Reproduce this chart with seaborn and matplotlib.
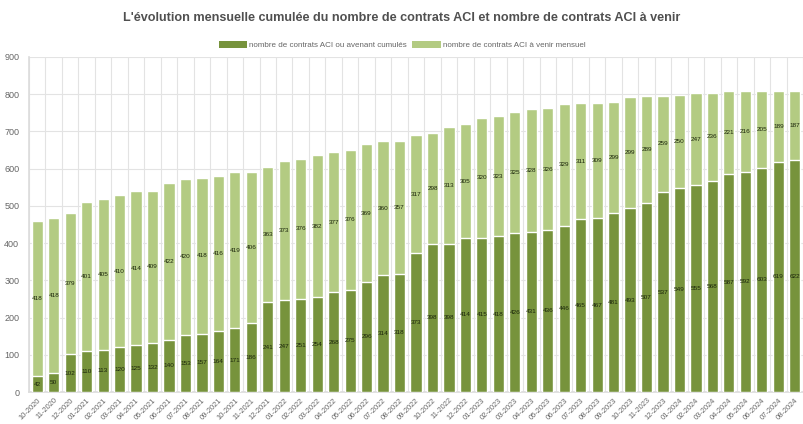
import matplotlib
matplotlib.use("Agg")
import matplotlib.pyplot as plt
import seaborn as sns
import pandas as pd
from matplotlib.patches import Patch

months = ["10-2020", "11-2020", "12-2020",
          "01-2021", "02-2021", "03-2021", "04-2021", "05-2021", "06-2021",
          "07-2021", "08-2021", "09-2021", "10-2021", "11-2021", "12-2021",
          "01-2022", "02-2022", "03-2022", "04-2022", "05-2022", "06-2022",
          "07-2022", "08-2022", "09-2022", "10-2022", "11-2022", "12-2022",
          "01-2023", "02-2023", "03-2023", "04-2023", "05-2023", "06-2023",
          "07-2023", "08-2023", "09-2023", "10-2023", "11-2023", "12-2023",
          "01-2024", "02-2024", "03-2024", "04-2024", "05-2024", "06-2024",
          "07-2024", "08-2024"]

cumules = [42, 50, 102,
           110, 113, 120, 125, 132, 140, 153, 157, 164, 171, 186, 241,
           247, 251, 254, 268, 275, 296, 314, 318, 373, 398, 398, 414,
           415, 418, 426, 431, 436, 446, 465, 467, 481, 493, 507, 537,
           549, 555, 568, 587, 592, 603, 619, 622]

a_venir = [418, 418, 379,
           401, 405, 410, 414, 409, 422, 420, 418, 416, 419, 406, 363,
           373, 376, 382, 377, 376, 369, 360, 357, 317, 298, 313, 305,
           320, 323, 325, 328, 326, 329, 311, 309, 299, 299, 289, 259,
           250, 247, 236, 221, 216, 205, 189, 187]

label_dark = "nombre de contrats ACI ou avenant cumulés"
label_light = "nombre de contrats ACI à venir mensuel"
title = "L'évolution mensuelle cumulée du nombre de contrats ACI et nombre de contrats ACI à venir"

dark = "#77933c"
light = "#b3cb82"

df = pd.DataFrame({"mois": months, "cumules": cumules, "a_venir": a_venir})
df["total"] = df["cumules"] + df["a_venir"]

sns.set_theme(style="white")
plt.rcParams["font.family"] = ["Liberation Sans", "DejaVu Sans"]

fig = plt.figure(figsize=(8.04, 4.24), dpi=100)
ax = fig.add_axes([29 / 804, 1 - 392 / 424, 774 / 804, 335 / 424])

sns.barplot(data=df, x="mois", y="total", color=light, width=0.68,
            saturation=1, ax=ax, zorder=2)
sns.barplot(data=df, x="mois", y="cumules", color=dark, width=0.68,
            saturation=1, ax=ax, zorder=3)

for i, (c, v) in enumerate(zip(cumules, a_venir)):
    ax.text(i, c / 2, str(c), ha="center", va="center", fontsize=4.6,
            color="#1a240a", zorder=5)
    ax.text(i, c + v / 2, str(v), ha="center", va="center", fontsize=4.6,
            color="#1a240a", zorder=5)

ax.set_ylim(0, 900)
ax.set_xlim(-0.5, len(months) - 0.5)
ax.set_yticks(range(0, 901, 100))
ax.yaxis.grid(True, color="#e3e3e3", linewidth=0.8, zorder=0)
ax.set_axisbelow(True)
for b in range(len(months) + 1):
    ax.axvline(b - 0.5, color="#e3e3e3", linewidth=0.8, zorder=0)

ax.set_xlabel("")
ax.set_ylabel("")
ax.tick_params(axis="y", labelsize=6.5, colors="#666666", length=0, pad=7)
ax.tick_params(axis="x", labelsize=5.4, colors="#666666", length=2, pad=1.5,
               color="#e3e3e3")
for lbl in ax.get_xticklabels():
    lbl.set_rotation(45)
    lbl.set_ha("right")
    lbl.set_va("top")
    lbl.set_rotation_mode("anchor")

for s in ax.spines.values():
    s.set_visible(False)
ax.spines["left"].set_visible(True)
ax.spines["left"].set_color("#dddddd")
ax.spines["bottom"].set_visible(True)
ax.spines["bottom"].set_color("#dddddd")

fig.text(0.5, 1 - 18 / 424, title, ha="center", va="center", fontsize=9.1,
         fontweight="bold", color="#505050")

handles = [Patch(facecolor=dark, edgecolor="none"),
           Patch(facecolor=light, edgecolor="none")]
fig.legend(handles, [label_dark, label_light], loc="center",
           bbox_to_anchor=(0.5, 1 - 45 / 424), ncol=2, frameon=False,
           fontsize=5.8, handlelength=3.5, handleheight=1.0,
           columnspacing=0.7, handletextpad=0.25, labelcolor="#666666")

fig.savefig("out.png", dpi=100, facecolor="white")
